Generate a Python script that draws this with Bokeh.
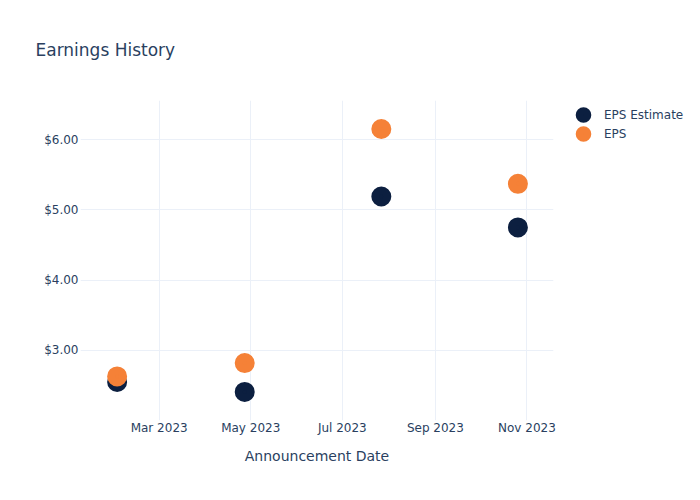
from datetime import datetime, timezone
from bokeh.plotting import figure
from bokeh.models import (ColumnDataSource, FixedTicker, NumeralTickFormatter,
                          DatetimeTickFormatter, Legend, LegendItem, Range1d)
from bokeh.embed import file_html
from bokeh.resources import INLINE

dates = ["2023-02-01", "2023-04-27", "2023-07-27", "2023-10-26"]
eps_estimate = [2.55, 2.41, 5.19, 4.75]
eps_actual = [2.63, 2.82, 6.15, 5.37]
x_ticks = ["2023-03-01", "2023-05-01", "2023-07-01", "2023-09-01", "2023-11-01"]
y_ticks = [3, 4, 5, 6]

def ms(s):
    return datetime.strptime(s, "%Y-%m-%d").replace(tzinfo=timezone.utc).timestamp() * 1000

src = ColumnDataSource(dict(date=[ms(d) for d in dates], est=eps_estimate, eps=eps_actual))

FONT = "DejaVu Sans"
TXT = "#2a3f5f"
GRID = "#ebf0f8"
NAVY = "#0c1f40"
ORANGE = "#f58137"
DAY = 86400000

p = figure(frame_width=473, frame_height=320, x_axis_type="datetime", output_backend="svg",
           toolbar_location=None,
           x_range=Range1d(ms("2023-01-07") + 0.6 * DAY, ms("2023-11-18") + 0.7 * DAY),
           y_range=Range1d(2.003, 6.555))
p.min_border_left = 80
p.min_border_right = 147
p.min_border_top = 100
p.min_border_bottom = 80
p.outline_line_color = None

# marker drawn as a 12px circle with an 8px outline -> 20px visible diameter
r1 = p.scatter("date", "est", source=src, size=12, fill_color=NAVY,
               line_color=NAVY, line_width=8)
r2 = p.scatter("date", "eps", source=src, size=12, fill_color=ORANGE,
               line_color=ORANGE, line_width=8)

p.xaxis.ticker = FixedTicker(ticks=[ms(t) for t in x_ticks])
p.xaxis.formatter = DatetimeTickFormatter(months="%b %Y", days="%b %Y", years="%b %Y")
p.yaxis.ticker = FixedTicker(ticks=y_ticks)
p.yaxis.formatter = NumeralTickFormatter(format="$0.00")

for ax in (p.xaxis[0], p.yaxis[0]):
    ax.axis_line_color = None
    ax.major_tick_line_color = None
    ax.minor_tick_line_color = None
    ax.major_tick_out = 0
    ax.major_tick_in = 0
    ax.minor_tick_out = 0
    ax.major_label_text_font = FONT
    ax.major_label_text_font_size = "12px"
    ax.major_label_text_color = TXT
    ax.axis_label_text_font = FONT
    ax.axis_label_text_color = TXT
    ax.axis_label_text_font_style = "normal"
p.xaxis.axis_label = "Announcement Date"
p.xaxis.axis_label_text_font_size = "14px"
p.xaxis.major_label_standoff = 0
p.xaxis.axis_label_standoff = 10
p.yaxis.major_label_standoff = 2

p.xgrid.grid_line_color = GRID
p.ygrid.grid_line_color = GRID
p.xgrid.ticker = p.xaxis.ticker
p.ygrid.ticker = p.yaxis.ticker

legend = Legend(items=[LegendItem(label="EPS Estimate", renderers=[r1]),
                       LegendItem(label="EPS", renderers=[r2])],
                location=(20, 277), border_line_color=None, background_fill_alpha=0,
                label_text_font=FONT, label_text_font_size="12px", label_text_color=TXT,
                glyph_width=20, glyph_height=19, label_height=19, spacing=0,
                padding=0, margin=0, label_standoff=11)
p.add_layout(legend, "right")

p.title.text = "Earnings History"
p.title.text_font = FONT
p.title.text_font_size = "17px"
p.title.text_font_style = "normal"
p.title.text_color = TXT
p.title.align = "left"
p.title.vertical_align = "top"
p.title.offset = -45
p.title.standoff = 77

open("out.html", "w").write(file_html(p, INLINE))
